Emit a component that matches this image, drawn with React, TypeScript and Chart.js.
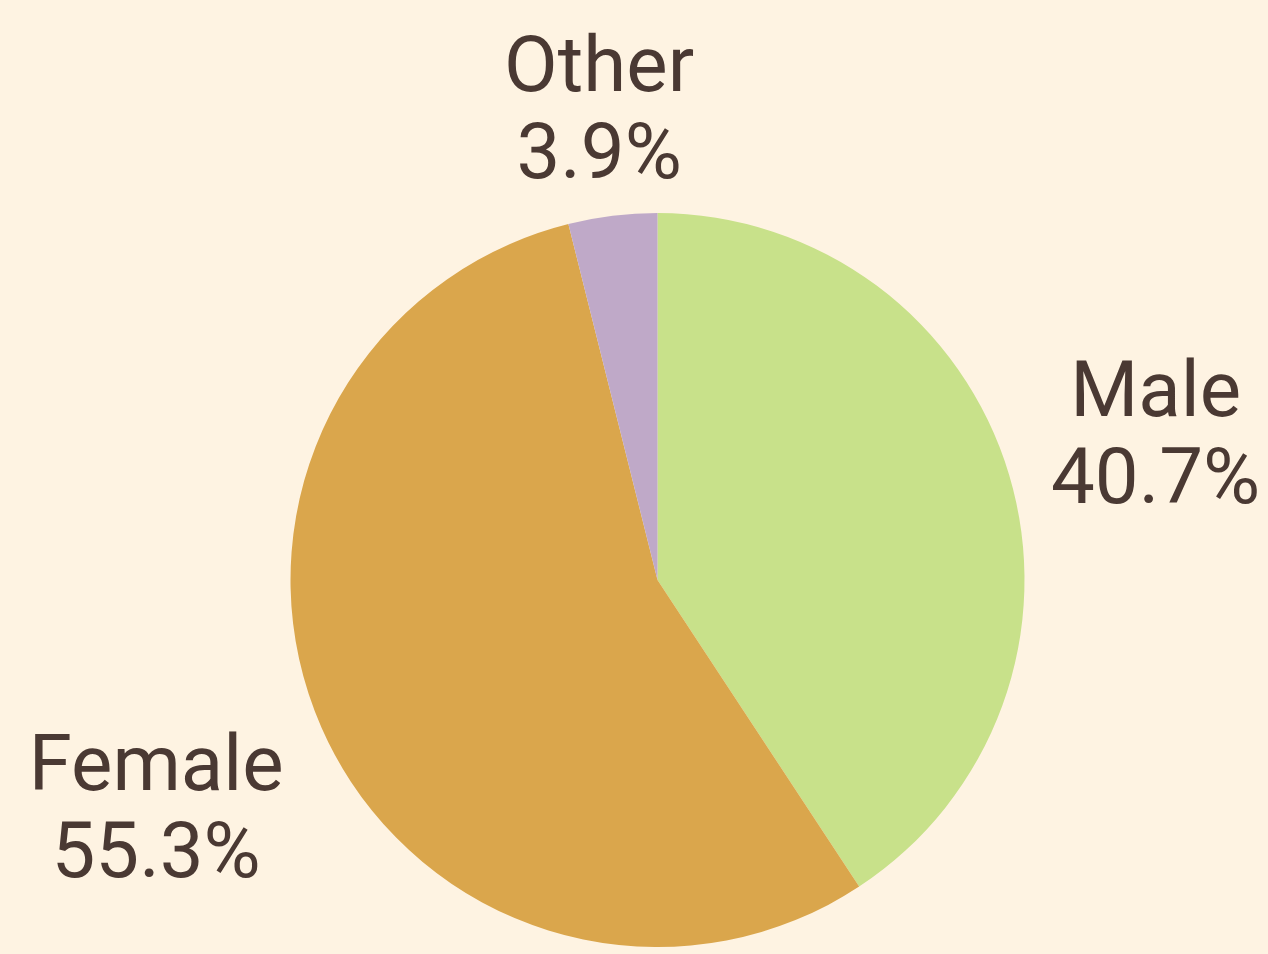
import React, { useEffect, useRef } from "react";
import { Chart, registerables } from "chart.js";

Chart.register(...registerables);

const categories = ["Male", "Female", "Other"];
const values = [40.7, 55.3, 3.9];
const colors = ["#C8E18A", "#DAA64C", "#BFA9C8"];

// fine label placement tweaks (layout only, per slice label)
const labelNudgeX = [8, -12, 3];
const labelNudgeY = [-11, 34, 1];

const BG = "#FEF3E2";
const TEXT = "#4A3933";
const FONT_SIZE = 78;
const FONT = `${FONT_SIZE}px Roboto, 'Noto Sans', sans-serif`;
const CAP = FONT_SIZE * 0.711;
const LINE_H = 87;

const labelPlugin = {
  id: "outsideLabels",
  afterDatasetsDraw(chart: any) {
    const ctx = chart.ctx;
    const meta = chart.getDatasetMeta(0);
    ctx.save();
    ctx.font = FONT;
    ctx.fillStyle = TEXT;
    ctx.textAlign = "center";
    ctx.textBaseline = "alphabetic";
    meta.data.forEach((arc: any, i: number) => {
      const { x, y, startAngle, endAngle, outerRadius } = arc.getProps(
        ["x", "y", "startAngle", "endAngle", "outerRadius"],
        true
      );
      const mid = (startAngle + endAngle) / 2;
      const c = Math.cos(mid);
      const s = Math.sin(mid);
      const lines = [categories[i], values[i].toFixed(1) + "%"];
      const w = Math.max(...lines.map((l) => ctx.measureText(l).width));
      const hw = w / 2;
      const hh = (LINE_H * (lines.length - 1) + CAP) / 2;
      const g = 40;
      const cx = x + c * (outerRadius + g + hw) + labelNudgeX[i];
      const cy = y + s * (outerRadius + g + hh) + labelNudgeY[i];
      const top = cy - hh;
      lines.forEach((l, k) => {
        ctx.fillText(l, cx, top + CAP + k * LINE_H);
      });
    });
    ctx.restore();
  },
};

export default function App() {
  const ref = useRef<HTMLCanvasElement | null>(null);
  useEffect(() => {
    document.body.style.margin = "0";
    document.body.style.background = BG;
    const chart = new Chart(ref.current as HTMLCanvasElement, {
      type: "pie",
      data: {
        labels: categories,
        datasets: [
          {
            data: values,
            backgroundColor: colors,
            borderWidth: 0,
          },
        ],
      },
      options: {
        animation: false,
        responsive: false,
        maintainAspectRatio: false,
        layout: { padding: { left: 290, right: 243, top: 213, bottom: 7 } },
        plugins: {
          legend: { display: false },
          tooltip: { enabled: false },
        },
      },
      plugins: [labelPlugin],
    });
    return () => chart.destroy();
  }, []);
  return (
    <div style={{ width: 1268, height: 954, background: BG }}>
      <canvas ref={ref} width={1268} height={954} />
    </div>
  );
}
